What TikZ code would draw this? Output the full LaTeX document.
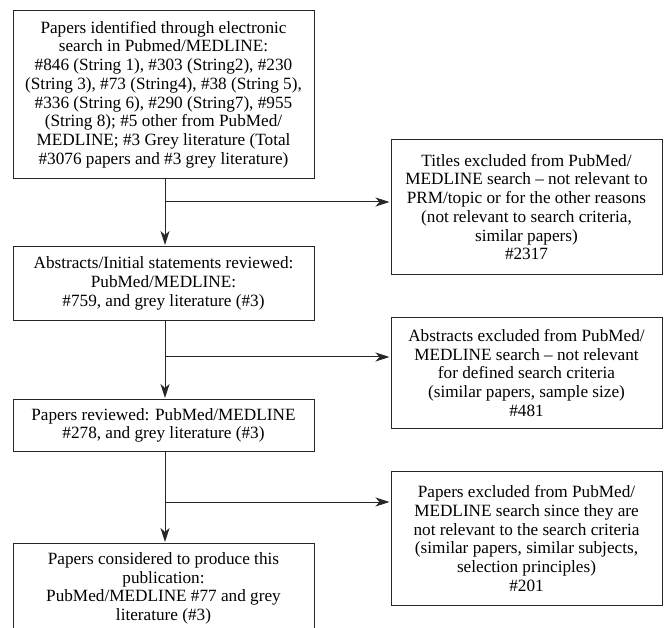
\documentclass[tikz,border=0pt]{standalone}
\usepackage{fontspec}
\setmainfont{Liberation Serif}
\usetikzlibrary{arrows.meta}

\begin{document}
\begin{tikzpicture}[
	x=1pt, y=-1pt,
	box/.style={rectangle, draw=black!85, line width=1pt, text centered, align=center, anchor=north, inner sep=2pt, font=\fontsize{17.2}{18.7}\selectfont},
	flow/.style={draw=black!85, line width=1pt, -{Stealth[length=14pt,width=9pt,inset=4pt]}, shorten >=1pt},
	]
	\useasboundingbox (0,0) rectangle (667,628);
	\clip (0,0) rectangle (667,628);

	% main column
	\node [box, minimum width=301pt, minimum height=168pt] (identified) at (163.5,10) {Papers identified through electronic\\search in Pubmed/MEDLINE:\\\#846 (String 1), \#303 (String2), \#230\\(String 3), \#73 (String4), \#38 (String 5),\\\#336 (String 6), \#290 (String7), \#955\\(String 8); \#5 other from PubMed/\\MEDLINE; \#3 Grey literature (Total\\\#3076 papers and \#3 grey literature)};
	\node [box, minimum width=301pt, minimum height=74pt] (abstracts) at (163.5,246) {Abstracts/Initial statements reviewed:\\PubMed/MEDLINE:\\\#759, and grey literature (\#3)};
	\node [box, minimum width=301pt, minimum height=52pt] (reviewed) at (163.5,399) {Papers reviewed: PubMed/MEDLINE\\\#278, and grey literature (\#3)};
	\node [box, minimum width=301pt, minimum height=90pt] (considered) at (163.5,543) {Papers considered to produce this\\publication:\\PubMed/MEDLINE \#77 and grey\\literature (\#3)};

	% excluded column
	\node [box, minimum width=271pt, minimum height=135pt] (titlesout) at (526.5,139) {Titles excluded from PubMed/\\MEDLINE search -- not relevant to\\PRM/topic or for the other reasons\\(not relevant to search criteria,\\similar papers)\\\#2317};
	\node [box, minimum width=271pt, minimum height=111pt] (abstractsout) at (526.5,317) {Abstracts excluded from PubMed/\\MEDLINE search -- not relevant\\for defined search criteria\\(similar papers, sample size)\\\#481};
	\node [box, minimum width=271pt, minimum height=134pt] (papersout) at (526.5,471) {Papers excluded from PubMed/\\MEDLINE search since they are\\not relevant to the search criteria\\(similar papers, similar subjects,\\selection principles)\\\#201};

	% branch points
	\coordinate (split1) at (165,202);
	\coordinate (split2) at (165,357);
	\coordinate (split3) at (165,502);

	\draw [flow] (identified.south -| split1) -- (abstracts.north -| split1);
	\draw [flow] (abstracts.south -| split2) -- (reviewed.north -| split2);
	\draw [flow] (reviewed.south -| split3) -- (considered.north -| split3);
	\draw [flow] (split1) -- (split1 -| titlesout.west);
	\draw [flow] (split2) -- (split2 -| abstractsout.west);
	\draw [flow] (split3) -- (split3 -| papersout.west);
\end{tikzpicture}
\end{document}
